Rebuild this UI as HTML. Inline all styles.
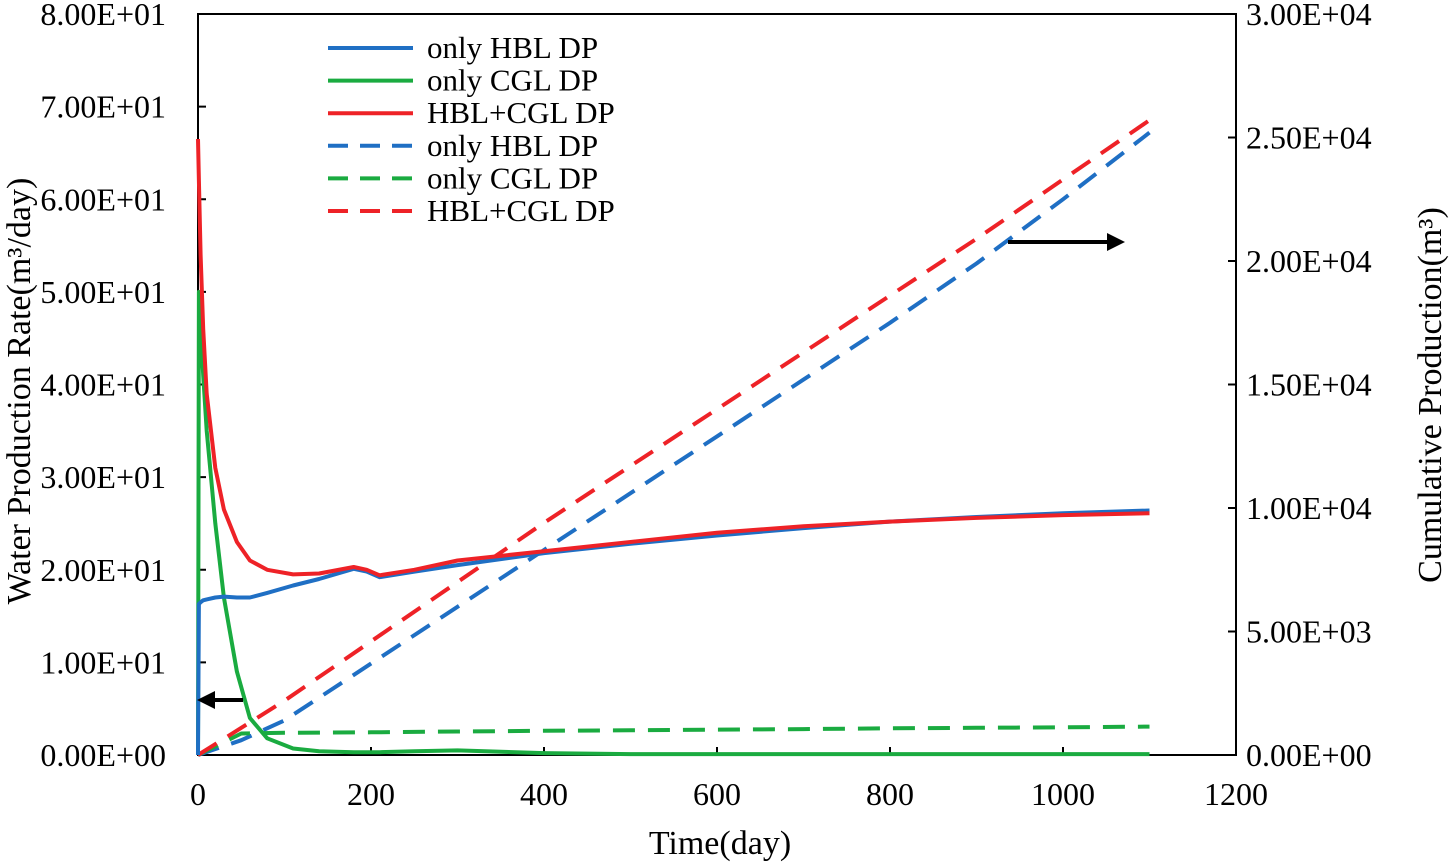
<!DOCTYPE html>
<html><head><meta charset="utf-8"><style>
body{margin:0;background:#fff}
svg{display:block;font-family:"Liberation Serif",serif}
</style></head><body>
<svg id="chart" width="1450" height="864"></svg>
<script>
const xTicks=[0,200,400,600,800,1000,1200];
const yLeftTicks=[0,10,20,30,40,50,60,70,80];
const yLeftLabels=["0.00E+00","1.00E+01","2.00E+01","3.00E+01","4.00E+01","5.00E+01","6.00E+01","7.00E+01","8.00E+01"];
const yRightTicks=[0,5000,10000,15000,20000,25000,30000];
const yRightLabels=["0.00E+00","5.00E+03","1.00E+04","1.50E+04","2.00E+04","2.50E+04","3.00E+04"];
const rateDays=[0,1,3,6,10,20,30,45,60,80,110,140,180,195,210,250,300,400,500,600,700,800,900,1000,1100];
const rateHBL=[0,16.3,16.5,16.7,16.8,17,17.1,17,17,17.5,18.3,19,20.1,19.8,19.2,19.8,20.5,21.8,22.8,23.7,24.5,25.2,25.7,26.1,26.4];
const rateCGL=[0,50,46,41,35,25,17,9,4,1.8,0.7,0.4,0.3,0.3,0.3,0.4,0.5,0.2,0.1,0.1,0.1,0.1,0.1,0.1,0.1];
const rateBoth=[66.5,62,54,46,39,31,26.5,23,21,20,19.5,19.6,20.3,20,19.4,20,21,22,23,24,24.7,25.2,25.6,25.9,26.1];
const cumDays=[0,50,100,200,300,400,500,600,700,800,900,1000,1100];
const cumHBL=[0,600,1400,3700,6000,8300,10600,12900,15200,17500,19900,22500,25200];
const cumCGL=[0,870,900,920,950,980,1000,1030,1050,1080,1100,1120,1150];
const cumBoth=[0,1100,2200,4600,7000,9400,11700,14000,16300,18600,20900,23300,25700];

const L=198,R=1236,T=14,B=755;
const X=v=>L+v/1200*(R-L);
const YL=v=>B-v/80*(B-T);
const YR=v=>B-v/30000*(B-T);
const svg=document.getElementById('chart');
const NS='http://www.w3.org/2000/svg';
function mk(tag,at,parent){const e=document.createElementNS(NS,tag);for(const k in at)e.setAttribute(k,at[k]);(parent||svg).appendChild(e);return e;}

const frame=mk('rect',{x:L,y:T,width:R-L,height:B-T,fill:'none',stroke:'#000','stroke-width':2});



xTicks.forEach(v=>{
  const t=mk('line',{x1:X(v),x2:X(v),y1:B,y2:B-8,stroke:'#000','stroke-width':2});
  
  
  const tx=mk('text',{x:X(v),y:B+50,'text-anchor':'middle','font-size':32});
  tx.textContent=v;
  
  
});
yLeftTicks.forEach((v,i)=>{
  const t=mk('line',{x1:L,x2:L+8,y1:YL(v),y2:YL(v),stroke:'#000','stroke-width':2});
  
  
  const tx=mk('text',{x:166,y:YL(v)+11,'text-anchor':'end','font-size':32});
  tx.textContent=yLeftLabels[i];
  
  
});
yRightTicks.forEach((v,i)=>{
  const t=mk('line',{x1:R,x2:R-8,y1:YR(v),y2:YR(v),stroke:'#000','stroke-width':2});
  
  
  const tx=mk('text',{x:1246,y:YR(v)+11,'text-anchor':'start','font-size':32});
  tx.textContent=yRightLabels[i];
  
  
});

const xt=mk('text',{x:720,y:854,'text-anchor':'middle','font-size':34});
xt.textContent='Time(day)';


const yt=mk('text',{x:0,y:0,'text-anchor':'middle','font-size':34,transform:'translate(30,391) rotate(-90)'});
yt.textContent='Water Production Rate(m³/day)';


const yt2=mk('text',{x:0,y:0,'text-anchor':'middle','font-size':34,transform:'translate(1441,395) rotate(-90)'});
yt2.textContent='Cumulative Production(m³)';



function path(xs,ys,yf,color,dash,name){
  const d=xs.map((x,i)=>(i?'L':'M')+X(x).toFixed(1)+','+yf(ys[i]).toFixed(1)).join(' ');
  const p=mk('path',{d:d,fill:'none',stroke:color,'stroke-width':4,'stroke-dasharray':dash?'22,13':'none','stroke-linejoin':'round'});
  
  
}
const blue='#1f6fc4',green='#1aab40',red='#ee2227';
path(cumDays,cumHBL,YR,blue,true,'cum-hbl-line');
path(cumDays,cumCGL,YR,green,true,'cum-cgl-line');
path(cumDays,cumBoth,YR,red,true,'cum-both-line');
path(rateDays,rateCGL,YL,green,false,'rate-cgl-line');
path(rateDays,rateHBL,YL,blue,false,'rate-hbl-line');
path(rateDays,rateBoth,YL,red,false,'rate-both-line');

const leg=[['only HBL DP',blue,false],['only CGL DP',green,false],['HBL+CGL DP',red,false],['only HBL DP',blue,true],['only CGL DP',green,true],['HBL+CGL DP',red,true]];
leg.forEach((l,i)=>{
  const y=48+i*32.6;
  const g=mk('g',{});
  
  
  mk('line',{x1:328,x2:413,y1:y,y2:y,stroke:l[1],'stroke-width':4,'stroke-dasharray':l[2]?'20,12':'none'},g);
  const t=mk('text',{x:427,y:y+10,'font-size':31},g);
  t.textContent=l[0];
});

function arrow(x1,x2,y,name){
  const g=mk('g',{});
  
  
  const dir=Math.sign(x2-x1);
  mk('line',{x1:x1,x2:x2-dir*14,y1:y,y2:y,stroke:'#000','stroke-width':4},g);
  mk('polygon',{points:`${x2},${y} ${x2-dir*18},${y-9} ${x2-dir*18},${y+9}`,fill:'#000'},g);
}
arrow(243,197,700,'left-axis-arrow');
arrow(1008,1125,242,'right-axis-arrow');
</script>
</body></html>
